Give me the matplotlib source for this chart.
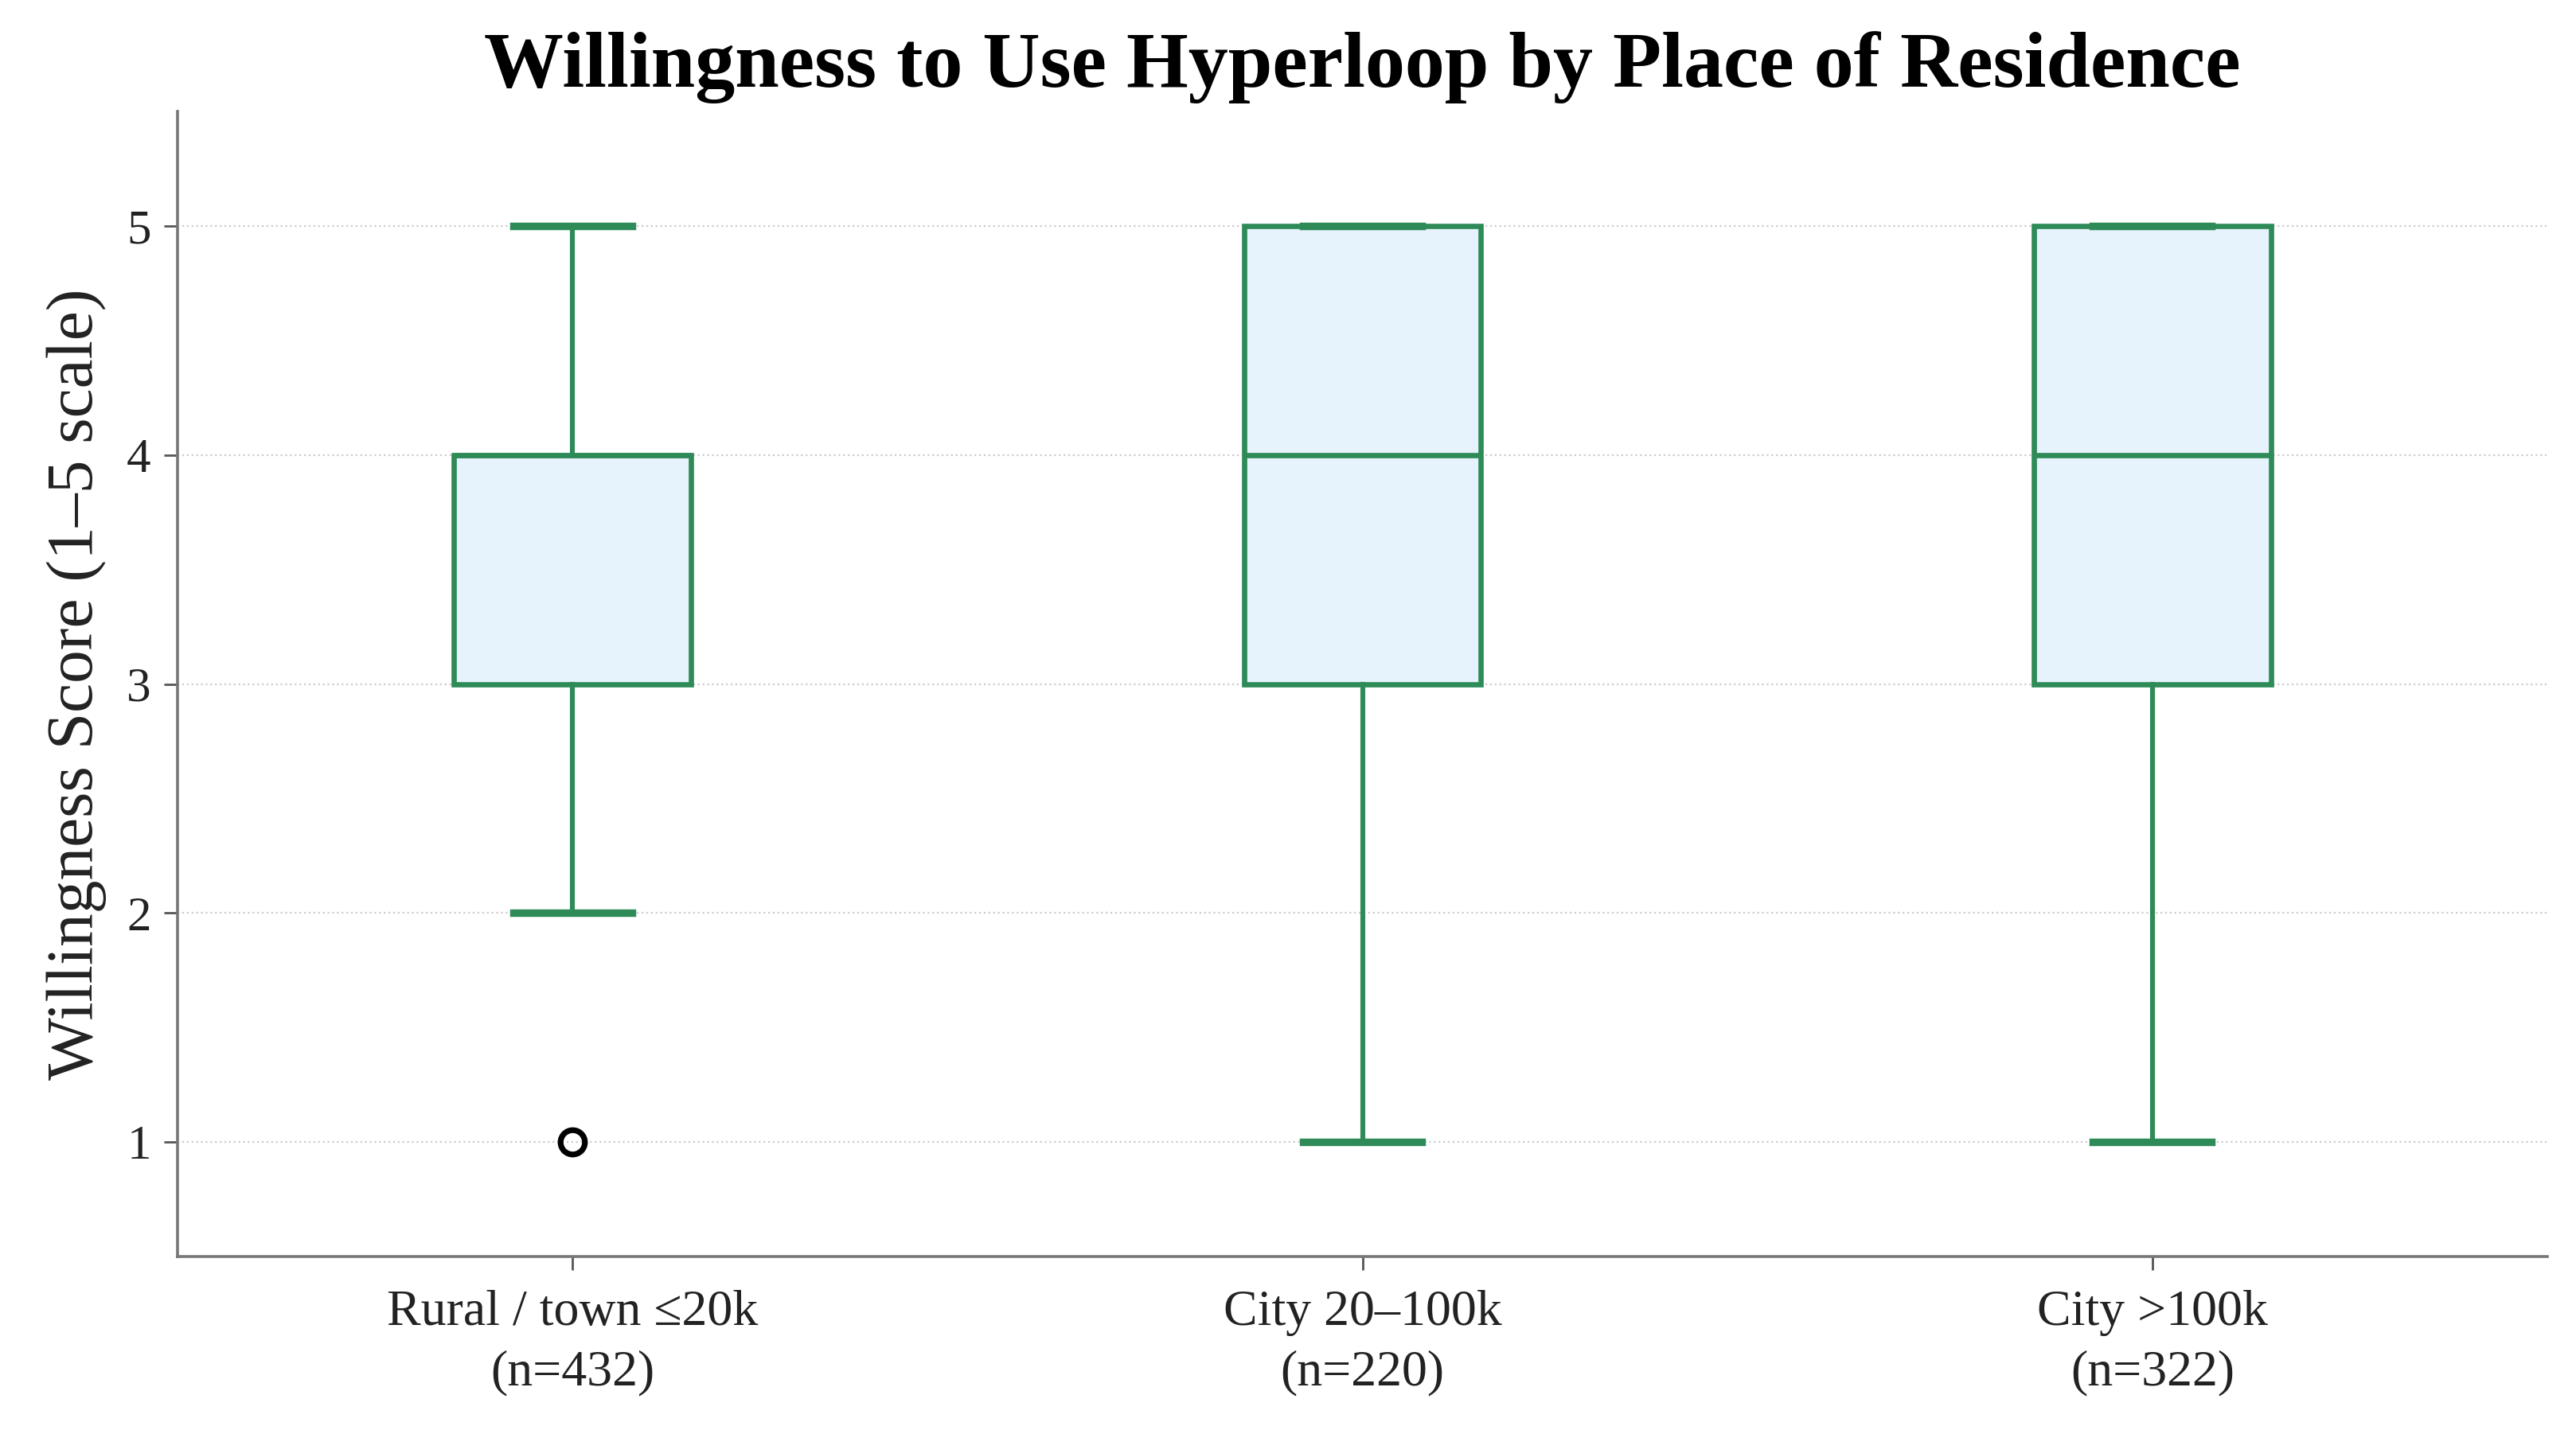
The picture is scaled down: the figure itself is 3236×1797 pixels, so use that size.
import matplotlib.pyplot as plt

plt.rcParams['font.family'] = ['Liberation Serif', 'DejaVu Serif']

# data
groups = ['Rural / town ≤20k', 'City 20–100k', 'City >100k']
n_resp = [432, 220, 322]
whislo = [2, 1, 1]
q1 = [3, 3, 3]
med = [4, 4, 4]
q3 = [4, 5, 5]
whishi = [5, 5, 5]
outliers = [[1], [], []]

stats = []
for i, g in enumerate(groups):
    stats.append({'label': f'{g}\n(n={n_resp[i]})', 'whislo': whislo[i], 'q1': q1[i],
                  'med': med[i], 'q3': q3[i], 'whishi': whishi[i], 'fliers': outliers[i]})

green = '#2e8b57'
fig = plt.figure(figsize=(16.185, 8.985), dpi=200)
ax = fig.add_axes([0.0689, 0.1213, 0.9197, 0.8008])

ax.bxp(stats, positions=[1, 2, 3], widths=0.3, patch_artist=True,
       boxprops=dict(facecolor='#e6f2fc', edgecolor=green, linewidth=2.4),
       medianprops=dict(color=green, linewidth=2.4),
       whiskerprops=dict(color=green, linewidth=2.2),
       capprops=dict(color=green, linewidth=3.4),
       flierprops=dict(marker='o', markerfacecolor='none', markeredgecolor='black',
                       markersize=11, markeredgewidth=2.6))

ax.set_xlim(0.5, 3.5)
ax.set_ylim(0.5, 5.5)
ax.set_yticks([1, 2, 3, 4, 5])
ax.yaxis.grid(True, linestyle=':', color='#cccccc', linewidth=0.8)
ax.set_axisbelow(True)

for s in ['top', 'right']:
    ax.spines[s].set_visible(False)
for s in ['left', 'bottom']:
    ax.spines[s].set_color('#777777')
    ax.spines[s].set_linewidth(1.3)
ax.tick_params(axis='both', colors='#555555', labelcolor='#222222', length=6, width=1)
ax.tick_params(axis='y', labelsize=22, pad=6)
ax.tick_params(axis='x', labelsize=23, pad=9)
for lab in ax.get_xticklabels():
    lab.set_linespacing(1.4)

ax.set_ylabel('Willingness Score (1–5 scale)', fontsize=30, color='#222222', labelpad=9)
ax.set_title('Willingness to Use Hyperloop by Place of Residence', fontsize=36,
             fontweight='bold', pad=11)

fig.savefig('out.png', dpi=200)
